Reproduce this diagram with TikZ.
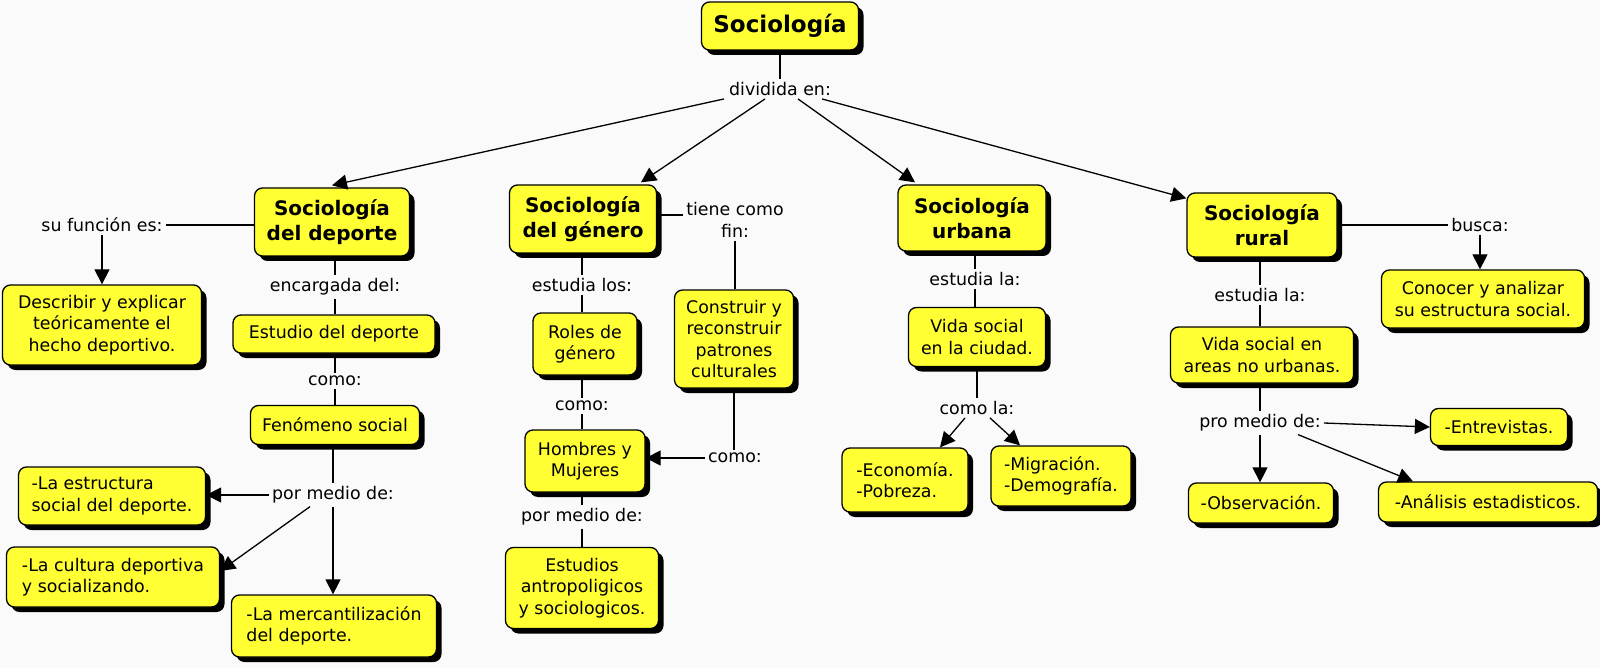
\documentclass[tikz,border=0pt]{standalone}
\usepackage{fontspec}
\setmainfont{DejaVu Sans}
\usetikzlibrary{arrows.meta,shadows}
\definecolor{boxy}{RGB}{255,255,51}
\definecolor{bgc}{RGB}{250,250,250}
\begin{document}
\begin{tikzpicture}[x=1pt,y=-1pt,
  box/.style={draw=black, line width=1.3pt, fill=boxy, rounded corners=8pt, align=center,
    inner sep=2pt, font=\fontsize{17.4}{21.5}\selectfont,
    general shadow={fill=black, shadow xshift=5pt, shadow yshift=-5pt}},
  lbox/.style={box, align=left},
  title/.style={box, font=\bfseries\fontsize{20}{25}\selectfont},
  lbl/.style={inner sep=3pt, align=center, font=\fontsize{17.4}{21.5}\selectfont},
  con/.style={line width=1.3pt},
  arr/.style={con, -{Triangle[length=15pt,width=15pt]}}]
\fill[bgc] (0,0) rectangle (1600,668);
\useasboundingbox (0,0) rectangle (1600,668);

% boxes
\node[title, font=\bfseries\fontsize{23}{28}\selectfont, minimum width=157pt, minimum height=48pt] (top) at (780,26) {Sociología};
\node[title, minimum width=155pt, minimum height=68pt] (dep) at (332,222) {Sociología\\del deporte};
\node[title, minimum width=147pt, minimum height=68pt] (gen) at (583,219) {Sociología\\del género};
\node[title, minimum width=148pt, minimum height=66pt] (urb) at (972,218) {Sociología\\urbana};
\node[title, minimum width=150pt, minimum height=64pt] (rur) at (1262,225) {Sociología\\rural};

\node[box, minimum width=199pt, minimum height=80pt] (desc) at (102,325) {Describir y explicar\\teóricamente el\\hecho deportivo.};
\node[box, minimum width=202pt, minimum height=38pt] (est) at (334,334) {Estudio del deporte};
\node[box, minimum width=169pt, minimum height=39pt] (fen) at (335,425) {Fenómeno social};
\node[lbox, minimum width=187pt, minimum height=58pt] (estr) at (112,496) {-La estructura\\social del deporte.};
\node[lbox, minimum width=213pt, minimum height=60pt] (cult) at (113,577) {-La cultura deportiva\\y socializando.};
\node[lbox, minimum width=205pt, minimum height=62pt] (merc) at (334,626) {-La mercantilización\\del deporte.};

\node[box, minimum width=104pt, minimum height=62pt] (roles) at (585,344) {Roles de\\género};
\node[box, minimum width=119pt, minimum height=98pt] (cons) at (734,339) {Construir y\\reconstruir\\patrones\\culturales};
\node[box, minimum width=120pt, minimum height=62pt] (homb) at (585,461) {Hombres y\\Mujeres};
\node[box, minimum width=153pt, minimum height=81pt] (estu) at (582,588) {Estudios\\antropoligicos\\y sociologicos.};

\node[box, minimum width=137pt, minimum height=59pt] (vida1) at (977,337) {Vida social\\en la ciudad.};
\node[lbox, minimum width=126pt, minimum height=64pt] (eco) at (905,480) {-Economía.\\-Pobreza.};
\node[lbox, minimum width=140pt, minimum height=60pt] (mig) at (1061,476) {-Migración.\\-Demografía.};

\node[box, minimum width=203pt, minimum height=58pt] (con) at (1483,299) {Conocer y analizar\\su estructura social.};
\node[box, minimum width=183pt, minimum height=56pt] (vida2) at (1262,355) {Vida social en\\areas no urbanas.};
\node[box, minimum width=137pt, minimum height=37pt] (entr) at (1499,427) {-Entrevistas.};
\node[box, minimum width=145pt, minimum height=40pt] (obs) at (1261,503) {-Observación.};
\node[box, minimum width=219pt, minimum height=40pt] (anal) at (1488,502) {-Análisis estadisticos.};

% labels
\node[lbl] (div) at (780,89) {dividida en:};
\node[lbl] (fun) at (102,225) {su función es:};
\node[lbl] (enc) at (335,287) {encargada del:};
\node[lbl] (como1) at (335,381) {como:};
\node[lbl] (pmd1) at (333,495) {por medio de:};
\node[lbl] (tcf) at (735,220) {tiene como\\fin:};
\node[lbl] (elos) at (582,285) {estudia los:};
\node[lbl] (como2) at (582,406) {como:};
\node[lbl] (como3) at (735,458) {como:};
\node[lbl] (pmd2) at (582,517) {por medio de:};
\node[lbl] (ela1) at (975,279) {estudia la:};
\node[lbl] (cla) at (977,408) {como la:};
\node[lbl] (busca) at (1480,225) {busca:};
\node[lbl] (ela2) at (1260,295) {estudia la:};
\node[lbl] (pro) at (1260,423) {pro medio de:};

% connectors: top
\draw[con] (top) -- (div);
\draw[arr] ([xshift=-56pt]div.south) -- ([yshift=2pt]dep.north);
\draw[arr] ([xshift=-15pt]div.south) -- ([xshift=58pt,yshift=2pt]gen.north);
\draw[arr] ([xshift=18pt]div.south) -- ([xshift=-57pt,yshift=2pt]urb.north);
\draw[arr] ([xshift=42pt]div.south) -- ([yshift=-6pt]rur.north west);

% deporte
\draw[con] (dep.west |- fun) -- (fun);
\draw[arr] (fun) -- (desc);
\draw[con] (enc |- dep.south) -- (enc);
\draw[con] (enc) -- (enc |- est.north);
\draw[con] (como1 |- est.south) -- (como1);
\draw[con] (como1) -- (como1 |- fen.north);
\draw[con] (pmd1 |- fen.south) -- (pmd1);
\draw[arr] (pmd1.west) -- (estr.east |- pmd1.west);
\draw[arr] ([xshift=-23pt]pmd1.south) -- ([yshift=6pt]cult.east);
\draw[arr] (pmd1) -- (pmd1 |- merc.north);

% genero
\coordinate (tcfin) at ([yshift=5pt]tcf.west);
\draw[con] (gen.east |- tcfin) -- (tcfin);
\draw[con] (tcf) -- (tcf |- cons.north);
\draw[con] (cons.south) -- (cons.south |- como3.north);
\draw[arr] (como3.west) -- (homb.east |- como3.west);
\draw[con] (elos |- gen.south) -- (elos);
\draw[con] (elos) -- (elos |- roles.north);
\draw[con] (como2 |- roles.south) -- (como2);
\draw[con] (como2) -- (como2 |- homb.north);
\draw[con] (pmd2 |- homb.south) -- (pmd2);
\draw[con] (pmd2) -- (pmd2 |- estu.north);

% urbana
\draw[con] (ela1 |- urb.south) -- (ela1);
\draw[con] (ela1) -- (ela1 |- vida1.north);
\draw[con] (cla |- vida1.south) -- (cla);
\draw[arr] ([xshift=-12pt]cla.south) -- ([xshift=35pt]eco.north);
\draw[arr] ([xshift=13pt]cla.south) -- ([xshift=-41pt]mig.north);

% rural
\draw[con] (rur.east |- busca) -- (busca);
\draw[arr] (busca) -- (busca |- con.north);
\draw[con] (ela2 |- rur.south) -- (ela2);
\draw[con] (ela2) -- (ela2 |- vida2.north);
\draw[con] (pro |- vida2.south) -- (pro);
\draw[arr] (pro.east) -- (entr.west);
\draw[arr] (pro) -- (pro |- obs.north);
\draw[arr] ([xshift=38pt]pro.south) -- ([xshift=-75pt]anal.north);
\end{tikzpicture}
\end{document}
